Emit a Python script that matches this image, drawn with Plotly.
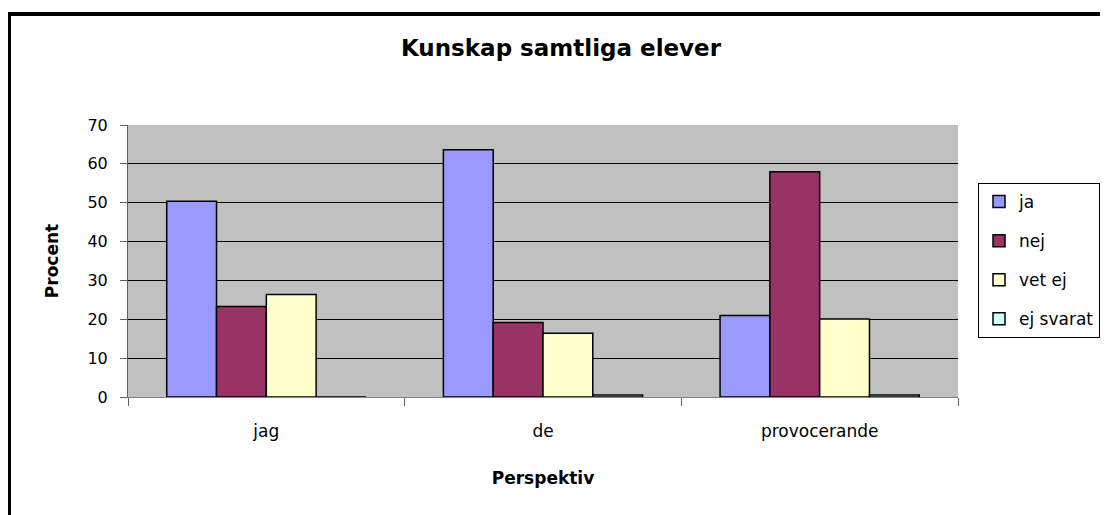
import plotly.graph_objects as go

categories = ["jag", "de", "provocerande"]
series_names = ["ja", "nej", "vet ej", "ej svarat"]
ja = [50.4, 63.6, 21.0]
nej = [23.3, 19.2, 58.0]
vet_ej = [26.4, 16.4, 20.1]
ej_svarat = [0.0, 0.5, 0.5]
colors = ["#9999FF", "#993366", "#FFFFCC", "#CCFFFF"]
y_ticks = [0, 10, 20, 30, 40, 50, 60, 70]

# page has an 8px body margin; figure coordinates = page - 8
OFF = 8
W, H = 1100, 507
L, R, T, B = 128 - OFF, 150, 125 - OFF, 118
pw = W - L - R
ph = H - T - B

def px_x(p):
    return (p - OFF - L) / pw

def px_y(p):
    return (H - B - (p - OFF)) / ph

fig = go.Figure()
for i, (name, vals) in enumerate(zip(series_names, [ja, nej, vet_ej, ej_svarat])):
    fig.add_trace(go.Bar(
        x=categories, y=vals, name=name, legendgroup=name,
        marker=dict(color=colors[i], line=dict(color="black", width=1.5)),
    ))

font_family = "DejaVu Sans, Verdana, sans-serif"
fig.update_layout(
    width=W, height=H,
    margin=dict(l=L, r=R, t=T, b=B, autoexpand=False),
    paper_bgcolor="white",
    plot_bgcolor="#C0C0C0",
    barmode="group",
    bargap=0.28,
    bargroupgap=0,
    font=dict(family=font_family, size=16, color="black"),
    title=dict(text="<b>Kunskap samtliga elever</b>", x=(561 - OFF) / W, xref="container",
               xanchor="center", y=1 - (48 - OFF) / H, yref="container", yanchor="middle",
               font=dict(size=23, family=font_family)),
    showlegend=True,
    legend=dict(
        x=px_x(978), y=px_y(183), xanchor="left", yanchor="top",
        bordercolor="black", borderwidth=1, bgcolor="white",
        font=dict(size=17), tracegroupgap=14,
        itemwidth=30,
    ),
    xaxis=dict(
        showgrid=False, showline=True, linecolor="#808080", linewidth=1,
        ticks="outside", tickson="boundaries", ticklen=8, tickcolor="#606060",
        ticklabelstandoff=19, tickfont=dict(size=17),
        title=dict(text="<b>Perspektiv</b>", font=dict(size=17), standoff=31),
    ),
    yaxis=dict(
        range=[0, 70], tickvals=y_ticks, showgrid=True, gridcolor="black", gridwidth=1,
        showline=True, linecolor="#606060", linewidth=1,
        ticks="outside", ticklen=7, tickcolor="#606060",
        ticklabelstandoff=9, tickfont=dict(size=16),
        title=dict(text="<b>Procent</b>", font=dict(size=17), standoff=24),
        zeroline=False,
    ),
)

fig.add_shape(type="rect", xref="paper", yref="paper",
              x0=px_x(9), x1=px_x(1130), y0=px_y(14), y1=px_y(540),
              line=dict(color="black", width=4), fillcolor="rgba(0,0,0,0)", layer="above")

fig.write_html("out.html")
